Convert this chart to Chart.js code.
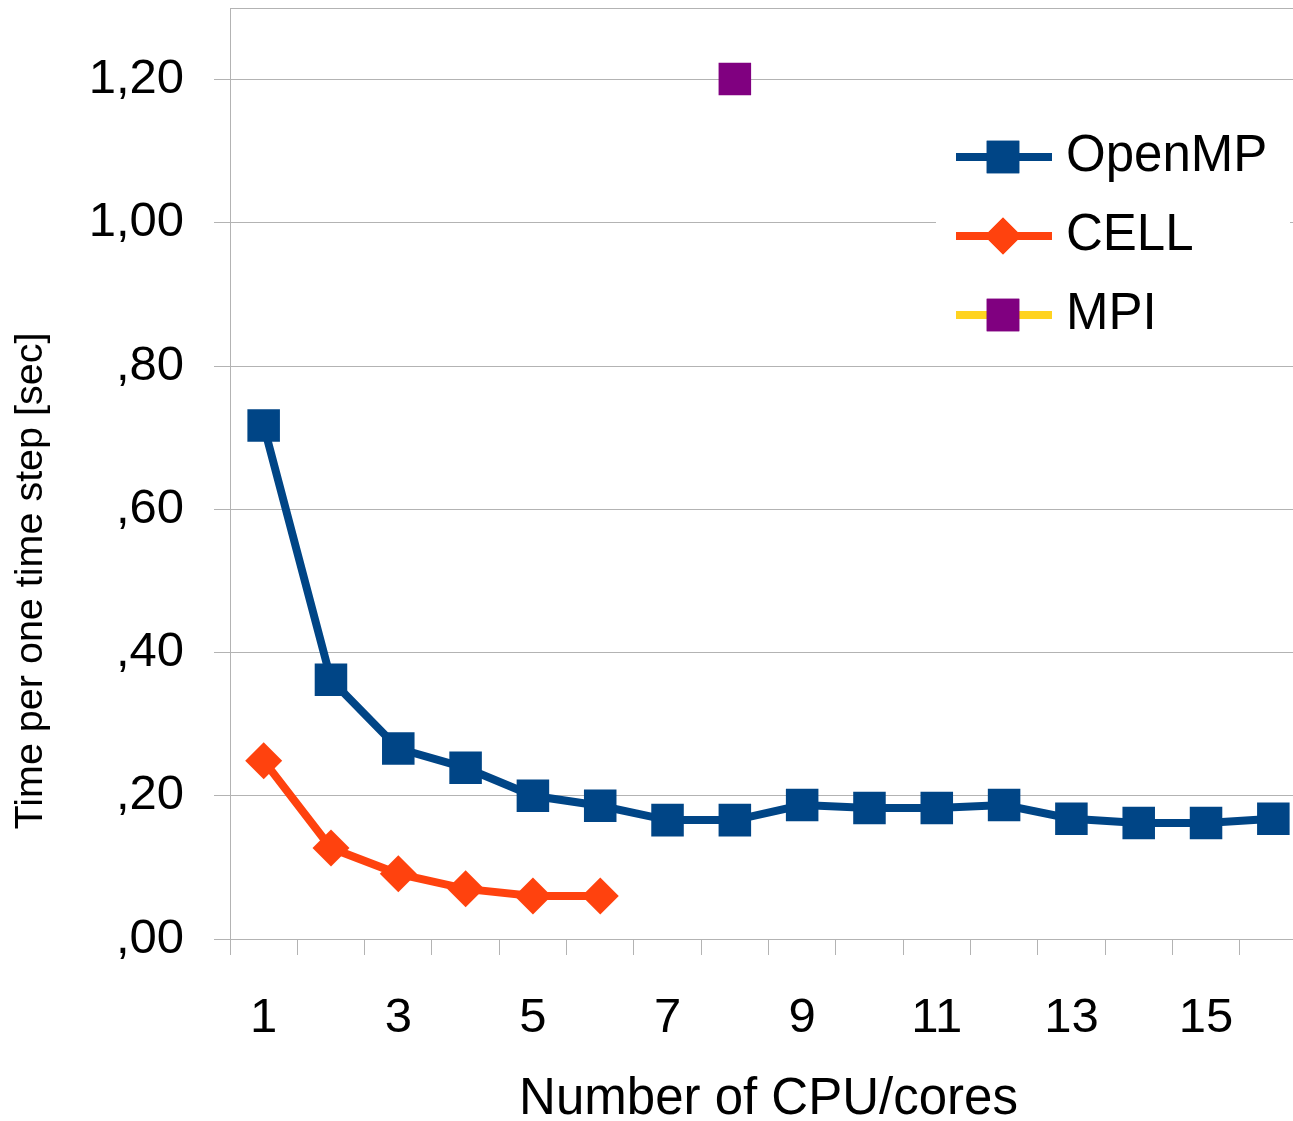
<!DOCTYPE html>
<html>
<head>
<meta charset="utf-8">
<script src="https://cdn.jsdelivr.net/npm/chart.js@4.4.1/dist/chart.umd.min.js"></script>
<style>
html, body { margin: 0; padding: 0; background: #fff; overflow: hidden; }
#wrap { position: relative; width: 1307px; height: 1121px; }
</style>
</head>
<body>
<div id="wrap"><canvas id="chart"></canvas></div>
<script>
// data
const cores = ['1','2','3','4','5','6','7','8','9','10','11','12','13','14','15','16'];
const openmp = [0.717, 0.362, 0.266, 0.239, 0.200, 0.186, 0.166, 0.166, 0.187, 0.183, 0.183, 0.187, 0.168, 0.162, 0.162, 0.168];
const cell = [0.249, 0.127, 0.091, 0.070, 0.060, 0.060, null, null, null, null, null, null, null, null, null, null];
const mpi = [null, null, null, null, null, null, null, 1.201, null, null, null, null, null, null, null, null];
const yTicks = [0, 0.2, 0.4, 0.6, 0.8, 1.0, 1.2, 1.3];

const FONT = '"Liberation Sans", Arial, sans-serif';
const GRID = '#b3b3b3';

const fmtY = (v) => v >= 1.25 ? '' : v.toFixed(2).replace('.', ',').replace(/^0/, '');

// legend box + rotated y title, placed like the original
const extras = {
  id: 'extras',
  afterDraw(chart) {
    const ctx = chart.ctx;
    ctx.save();
    ctx.fillStyle = '#fff';
    ctx.fillRect(936, 110, 354, 245);

    const rows = [157, 236, 315];
    chart.data.datasets.forEach((ds, i) => {
      const y = rows[i];
      ctx.strokeStyle = ds.borderColor;
      ctx.lineWidth = 8;
      ctx.beginPath();
      ctx.moveTo(956, y);
      ctx.lineTo(1052, y);
      ctx.stroke();
      ctx.fillStyle = ds.pointBackgroundColor;
      Chart.helpers.drawPoint(ctx, { pointStyle: ds.pointStyle, radius: ds.pointRadius, borderWidth: 0, rotation: 0 }, 1003, y);
      ctx.fill();
      ctx.fillStyle = '#000';
      ctx.font = '51px ' + FONT;
      ctx.textAlign = 'left';
      ctx.textBaseline = 'middle';
      ctx.fillText(ds.label, 1066, y);
    });

    ctx.translate(31, 581);
    ctx.rotate(-Math.PI / 2);
    ctx.fillStyle = '#000';
    ctx.font = '39.5px ' + FONT;
    ctx.textAlign = 'center';
    ctx.textBaseline = 'middle';
    ctx.fillText('Time per one time step [sec]', 0, 0);
    ctx.restore();
  }
};

new Chart(document.getElementById('chart'), {
  type: 'line',
  data: {
    labels: cores,
    datasets: [
      { label: 'OpenMP', data: openmp, borderColor: '#004586', backgroundColor: '#004586',
        pointBackgroundColor: '#004586', pointStyle: 'rect', pointRadius: 23, pointBorderWidth: 0, borderWidth: 8 },
      { label: 'CELL', data: cell, borderColor: '#ff420e', backgroundColor: '#ff420e',
        pointBackgroundColor: '#ff420e', pointStyle: 'rectRot', pointRadius: 18.5, pointBorderWidth: 0, borderWidth: 8 },
      { label: 'MPI', data: mpi, borderColor: '#ffd320', backgroundColor: '#800080',
        pointBackgroundColor: '#800080', pointStyle: 'rect', pointRadius: 23, pointBorderWidth: 0, borderWidth: 8 }
    ]
  },
  options: {
    responsive: true,
    maintainAspectRatio: false,
    animation: false,
    layout: { autoPadding: false, padding: { top: 8, left: 0, right: 0, bottom: 0 } },
    elements: {
      line: { tension: 0, borderCapStyle: 'butt', borderJoinStyle: 'miter' },
      point: { borderWidth: 0, hoverRadius: 23 }
    },
    plugins: { legend: { display: false }, tooltip: { enabled: false } },
    scales: {
      x: {
        type: 'category',
        offset: true,
        grid: { offset: true, drawOnChartArea: false, color: GRID, tickLength: 16 },
        border: { color: GRID },
        ticks: {
          autoSkip: false, maxRotation: 0, color: '#000', padding: 34,
          font: { family: FONT, size: 49 },
          callback: (v, i) => i % 2 === 0 ? cores[i] : ''
        },
        title: { display: true, text: 'Number of CPU/cores', color: '#000',
          font: { family: FONT, size: 51, lineHeight: 1 }, padding: { top: 0, bottom: -4 } },
        afterFit: (s) => { s.height = 182; s.paddingLeft = 0; s.paddingRight = 0; }
      },
      y: {
        min: 0, max: 1.3,
        grid: { color: GRID, tickLength: 16,
          tickColor: (c) => c.tick && c.tick.value > 1.25 ? 'rgba(0,0,0,0)' : GRID },
        border: { color: GRID },
        afterBuildTicks: (s) => { s.ticks = yTicks.map(v => ({ value: v })); },
        ticks: { color: '#000', padding: 30, font: { family: FONT, size: 49 }, callback: fmtY },
        afterFit: (s) => { s.width = 230; s.paddingTop = 0; s.paddingBottom = 0; }
      }
    }
  },
  plugins: [extras]
});
</script>
</body>
</html>
